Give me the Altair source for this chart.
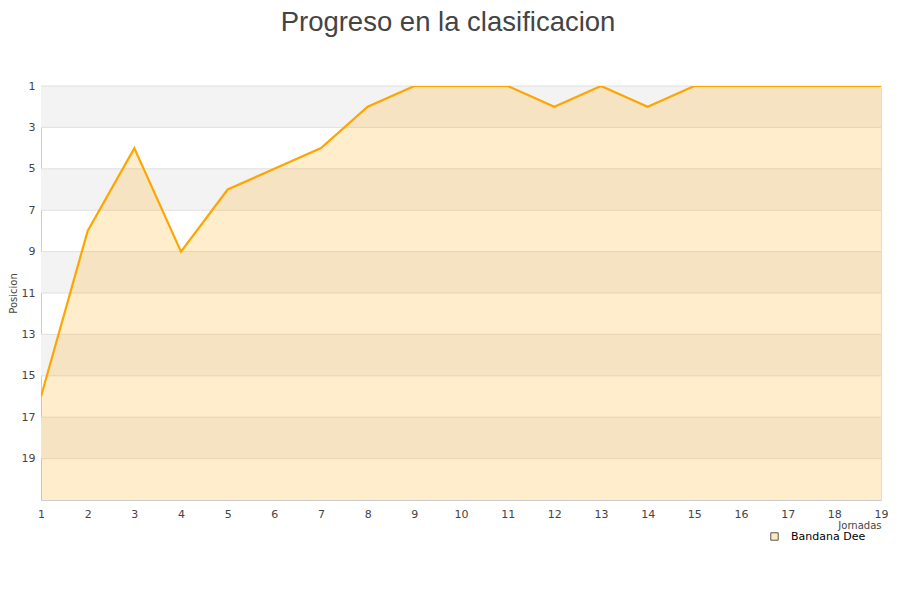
import altair as alt
import pandas as pd

jornadas = list(range(1, 20))
posiciones = [16, 8, 4, 9, 6, 5, 4, 2, 1, 1, 1, 2, 1, 2, 1, 1, 1, 1, 1]
equipo = "Bandana Dee"
band_start = [1, 5, 9, 13, 17]
band_end = [3, 7, 11, 15, 19]
grid_vals = [1, 3, 5, 7, 9, 11, 13, 15, 17, 19]

W, H = 840, 414

df = pd.DataFrame({"Jornada": jornadas, "Posicion": posiciones, "Equipo": [equipo] * len(jornadas)})
bands = pd.DataFrame({"y1": band_start, "y2": band_end})
grid = pd.DataFrame({"g": grid_vals})

yscale = alt.Scale(domain=[1, 21], reverse=True, nice=False, zero=False)
xscale = alt.Scale(domain=[1, 19], nice=False, zero=False)

rects = alt.Chart(bands).mark_rect(color="#f3f3f3").encode(
    x=alt.value(0), x2=alt.value(W),
    y=alt.Y("y1:Q", scale=yscale), y2="y2:Q",
)
rules = alt.Chart(grid).mark_rule(color="#e0e0e0", strokeWidth=1).encode(
    y=alt.Y("g:Q", scale=yscale), x=alt.value(0), x2=alt.value(W),
)
area = alt.Chart(df).mark_area(color="#ffa500", opacity=0.2).encode(
    x=alt.X("Jornada:Q", scale=xscale),
    y=alt.Y("Posicion:Q", scale=yscale),
    y2=alt.datum(21),
)
legend_layer = alt.Chart(df).mark_square(opacity=0).encode(
    x=alt.X("Jornada:Q", scale=xscale),
    y=alt.Y("Posicion:Q", scale=yscale),
    fill=alt.Fill("Equipo:N", scale=alt.Scale(range=["#ffe9c2"]),
                  legend=alt.Legend(title=None, orient="none", legendX=728, legendY=445,
                                    symbolType="square", symbolStrokeColor="#555555",
                                    symbolStrokeWidth=1, symbolSize=55, symbolOpacity=1,
                                    labelOffset=11,
                                    labelFontSize=11, labelColor="#000000", labelFont="DejaVu Sans")),
)
line = alt.Chart(df).mark_line(color="#ffa500", strokeWidth=2.2, clip=True).encode(
    x=alt.X("Jornada:Q", scale=xscale,
            axis=alt.Axis(values=jornadas, format="d", title="Jornadas", grid=False, ticks=False,
                          domainColor="#cccccc", labelColor="#444444", labelFontSize=11,
                          labelPadding=8, titleFontSize=10, titleFontWeight="normal",
                          titleColor="#444444", labelFlush=False,
                          titleX=W, titleY=20, titleAlign="right", titleBaseline="top")),
    y=alt.Y("Posicion:Q", scale=yscale,
            axis=alt.Axis(values=grid_vals, format="d", title="Posicion", grid=False, ticks=False,
                          domainColor="#cccccc", labelColor="#444444", labelFontSize=11,
                          labelPadding=6, titleFontSize=10, titleFontWeight="normal",
                          titleColor="#444444", titlePadding=3)),
)

chart = alt.layer(rects, rules, area, line, legend_layer).properties(
    width=W, height=H,
    title=alt.TitleParams("Progreso en la clasificacion", fontSize=27.5, fontWeight="normal",
                          color="#444444", anchor="middle", frame="bounds", offset=44,
                          font="Liberation Sans"),
    padding={"left": 0, "top": 0, "right": 0, "bottom": 0},
).configure_view(stroke=None).configure(font="DejaVu Sans")

chart.save("out.html", embed_options={"renderer": "svg", "actions": False})
